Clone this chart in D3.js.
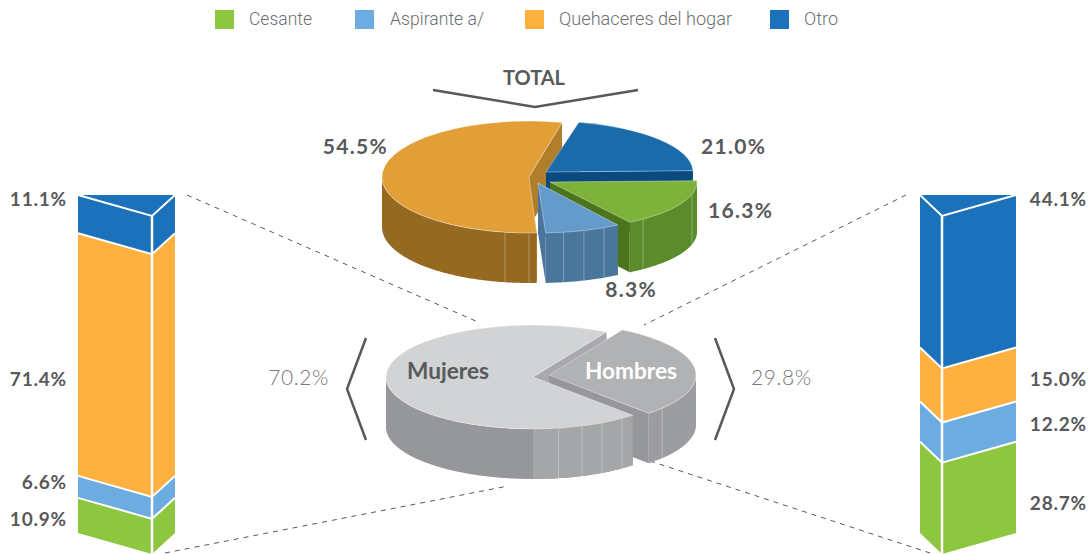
<!DOCTYPE html>
<html><head><meta charset="utf-8">
<script src="https://cdnjs.cloudflare.com/ajax/libs/d3/7.8.5/d3.min.js"></script>
<style>html,body{margin:0;padding:0;background:#fff}svg{display:block}</style>
</head><body><svg id="c" width="1089" height="555"></svg>
<script>
// ---- data ----
const categories = ["Cesante", "Aspirante a/", "Quehaceres del hogar", "Otro"];
const totalValues = [16.3, 8.3, 54.5, 21.0];
const sexCategories = ["Hombres", "Mujeres"];
const sexValues = [29.8, 70.2];
const womenValues = [10.9, 6.6, 71.4, 11.1];
const menValues = [28.7, 12.2, 15.0, 44.1];
// the bars are drawn slightly off their labels in the reference; heights
const womenDrawnHeights = [10.4, 6.5, 71.8, 11.3];
const menDrawnHeights = [27.0, 11.9, 16.0, 45.1];

// ---- styles ----
const ink = "#58595B";
const barColors = ["#8DC63F", "#6CACE0", "#FEB040", "#1C72BA"];
const topColors = ["#7EB33B", "#659BCB", "#E29F38", "#1B6BAB"];
const wallColors = ["#5B8B2A", "#4A769C", "#95691F", "#0A4A7E"];
const faceColors = ["#4C741C", "#4A769C", "#B07D2B", "#0A4A7E"];
const rad = Math.PI / 180;
const svg = d3.select("#c");
const fmt = v => d3.format(".1f")(v) + "%";
const bold = "Lato, sans-serif";

const arcGen = d3.arc().innerRadius(0).outerRadius(1);
const lineGen = d3.line();

function sliceFaces(g, s, o) {
  const {rx, ry, depth, apex, face} = o;
  const [cx, cy] = apex;
  const px = a => cx + rx * Math.sin(a), py = a => cy - ry * Math.cos(a);
  [s.startAngle, s.endAngle].forEach(a => {
    g.append("path").attr("fill", face).attr("d", lineGen([
      [cx, cy], [px(a), py(a)], [px(a), py(a) + depth], [cx, cy + depth]]) + "Z");
  });
}
function sliceBody(g, s, o) {
  const {rx, ry, depth, apex, top, wall, facets, wallAlt} = o;
  const [cx, cy] = apex;
  const px = a => cx + rx * Math.sin(a), py = a => cy - ry * Math.cos(a);
  const vis0 = Math.max(s.startAngle, Math.PI / 2), vis1 = Math.min(s.endAngle, 1.5 * Math.PI);
  if (vis1 > vis0) {
    const area = d3.area().x(a => px(a)).y0(a => py(a)).y1(a => py(a) + depth);
    g.append("path").attr("fill", wall).attr("d", area(d3.range(vis0, vis1, 0.01).concat(vis1)));
    if (wallAlt) {
      g.append("path").attr("fill", wallAlt.color).attr("d",
        area(d3.range(vis0, wallAlt.to * rad, 0.01).concat(wallAlt.to * rad)));
    }
    (facets || []).forEach(d => {
      const a = d * rad;
      g.append("line").attr("x1", px(a)).attr("x2", px(a)).attr("y1", py(a)).attr("y2", py(a) + depth)
        .attr("stroke", "#fff").attr("stroke-opacity", 0.3).attr("stroke-width", 1);
    });
  }
  g.append("path").attr("fill", top).attr("stroke", "#fff").attr("stroke-opacity", 0.45)
    .attr("stroke-width", 0.8)
    .attr("transform", `translate(${cx},${cy}) scale(${rx},${ry})`)
    .attr("d", arcGen(s))
    .style("vector-effect", "non-scaling-stroke");
}

// ---- connectors ----
[[187,195,478,322],[165,553,508,486],[906,195,644,325],[650,461,930,553]].forEach(l => {
  svg.append("line").attr("x1", l[0]).attr("y1", l[1]).attr("x2", l[2]).attr("y2", l[3])
    .attr("stroke", ink).attr("stroke-width", 1).attr("stroke-dasharray", "5 5");
});

// ---- total pie ----
const totalOrder = [3, 0, 1, 2];
const totalPie = d3.pie().sort(null).startAngle(13 * rad).endAngle(373 * rad)
  (totalOrder.map(i => totalValues[i]));
const totalSetup = {
  3: {apex: [546, 172], ry: 51, facets: []},
  0: {apex: [550, 182], ry: 48, facets: [140.7, 105]},
  1: {apex: [538, 183], ry: 50, facets: [170, 161.8, 153.3]},
  2: {apex: [529, 177], ry: 56, facets: [189.4, 180]}
};
const gTotal = svg.append("g");
[2, 3, 0, 1].forEach(cat => {
  const s = totalPie[totalOrder.indexOf(cat)];
  const g = gTotal.append("g");
  const o = {rx: 147, ry: totalSetup[cat].ry, depth: 50,
    apex: totalSetup[cat].apex, top: topColors[cat], wall: wallColors[cat],
    face: faceColors[cat], facets: totalSetup[cat].facets};
  sliceFaces(g, s, o);
  sliceBody(g, s, o);
});

// ---- sex pie ----
const sexPie = d3.pie().sort(null).startAngle(30 * rad).endAngle(390 * rad)(sexValues);
const gSex = svg.append("g");
const womenPie = {rx: 147, ry: 52, depth: 50, apex: [533, 377],
  top: "#D1D3D4", wall: "#96979A", face: "#A7A9AC", facets: [170, 160.5, 152, 142.7],
  wallAlt: {color: "#A5A6A8", to: 180}};
const menPie = {rx: 147, ry: 52, depth: 50, apex: [549, 375],
  top: "#B1B2B4", wall: "#9C9DA0", face: "#96979A", facets: [129.7]};
sliceFaces(gSex.append("g"), sexPie[1], womenPie);
const gMen = gSex.append("g");
sliceFaces(gMen, sexPie[0], menPie);
sliceBody(gMen, sexPie[0], menPie);
sliceBody(gSex.append("g"), sexPie[1], womenPie);

// ---- stacked prisms ----
function prism(x0, xm, x1, heights) {
  const y = d3.scaleLinear().domain([0, 100]).range([533, 195]);
  const drop = 21;
  const g = svg.append("g");
  let acc = 0;
  const bands = heights.map((h, i) => { const b = {i, lo: y(acc), hi: y(acc + h)}; acc += h; return b; });
  bands.forEach(b => {
    g.append("path").attr("fill", barColors[b.i]).attr("d", lineGen([
      [x0, b.hi], [xm, b.hi + drop], [x1, b.hi], [x1, b.lo], [xm, b.lo + drop], [x0, b.lo]]) + "Z");
  });
  const topBand = bands[bands.length - 1];
  g.append("path").attr("fill", barColors[topBand.i]).attr("d",
    lineGen([[x0, topBand.hi], [x1, topBand.hi], [xm, topBand.hi + drop]]) + "Z");
  bands.forEach(b => {
    g.append("path").attr("fill", "none").attr("stroke", "#fff").attr("stroke-width", 2)
      .attr("d", lineGen([[x0, b.hi], [xm, b.hi + drop], [x1, b.hi]]));
  });
  g.append("line").attr("x1", xm).attr("x2", xm).attr("y1", y(100) + drop).attr("y2", y(0) + drop)
    .attr("stroke", "#fff").attr("stroke-width", 2.5);
}
prism(78, 152, 175, womenDrawnHeights);
prism(920, 942, 1016, menDrawnHeights);

// ---- chevrons ----
[[[433,90],[535,107],[638,90]], [[366,338],[347,389],[366,440]], [[715,338],[734,389],[715,440]]].forEach(p => {
  svg.append("path").attr("d", lineGen(p)).attr("fill", "none").attr("stroke", ink).attr("stroke-width", 2.5);
});

// ---- text ----
function txt(x, y, t, o = {}) {
  const e = svg.append("text").attr("x", x).attr("y", y).text(t)
    .attr("font-family", o.family || bold).attr("font-weight", o.weight || 700)
    .attr("font-size", o.size || 20).attr("fill", o.fill || ink)
    .attr("text-anchor", o.anchor || "start");
  if (o.spacing) e.attr("letter-spacing", o.spacing);
  if (o.len) e.attr("textLength", o.len).attr("lengthAdjust", "spacingAndGlyphs");
  return e;
}
// pie labels
[[388,154,2,"end"],[701,154,3,"start"],[708,218,0,"start"],[657,297,1,"end"]].forEach(d => {
  txt(d[0], d[1], fmt(totalValues[d[2]]), {anchor: d[3], size: 21, spacing: 1.3});
});
// bar labels
[526, 489, 386, 206].forEach((y, i) => txt(67, y, fmt(womenValues[i]), {anchor: "end", size: 19, spacing: 0.8}));
[510, 431, 386, 206].forEach((y, i) => txt(1087, y, fmt(menValues[i]), {anchor: "end", size: 19, spacing: 0.8}));

txt(534, 85, "TOTAL", {anchor: "middle", size: 20, len: 62});
txt(407, 379, sexCategories[1], {size: 23, len: 82});
txt(585, 379, sexCategories[0], {size: 23, len: 92, fill: "#fff"});
txt(329, 385, fmt(sexValues[1]), {anchor: "end", weight: 300, size: 21, fill: "#77787B", spacing: 0.6});
txt(751, 385, fmt(sexValues[0]), {weight: 300, size: 21, fill: "#77787B", spacing: 0.6});

// legend
const legendSwatchX = [215, 355, 525, 770];
const legendTextX = [249, 390, 559, 804];
const legendTextLen = [63, 94, 173, 34];
d3.range(categories.length).forEach(i => {
  svg.append("rect").attr("x", legendSwatchX[i]).attr("y", 10).attr("width", 19).attr("height", 19)
    .attr("fill", barColors[i]);
  txt(legendTextX[i], 25, categories[i], {family: "Roboto, sans-serif", weight: 300, size: 18,
    fill: "#6D6E71", len: legendTextLen[i]});
});
</script></body></html>
